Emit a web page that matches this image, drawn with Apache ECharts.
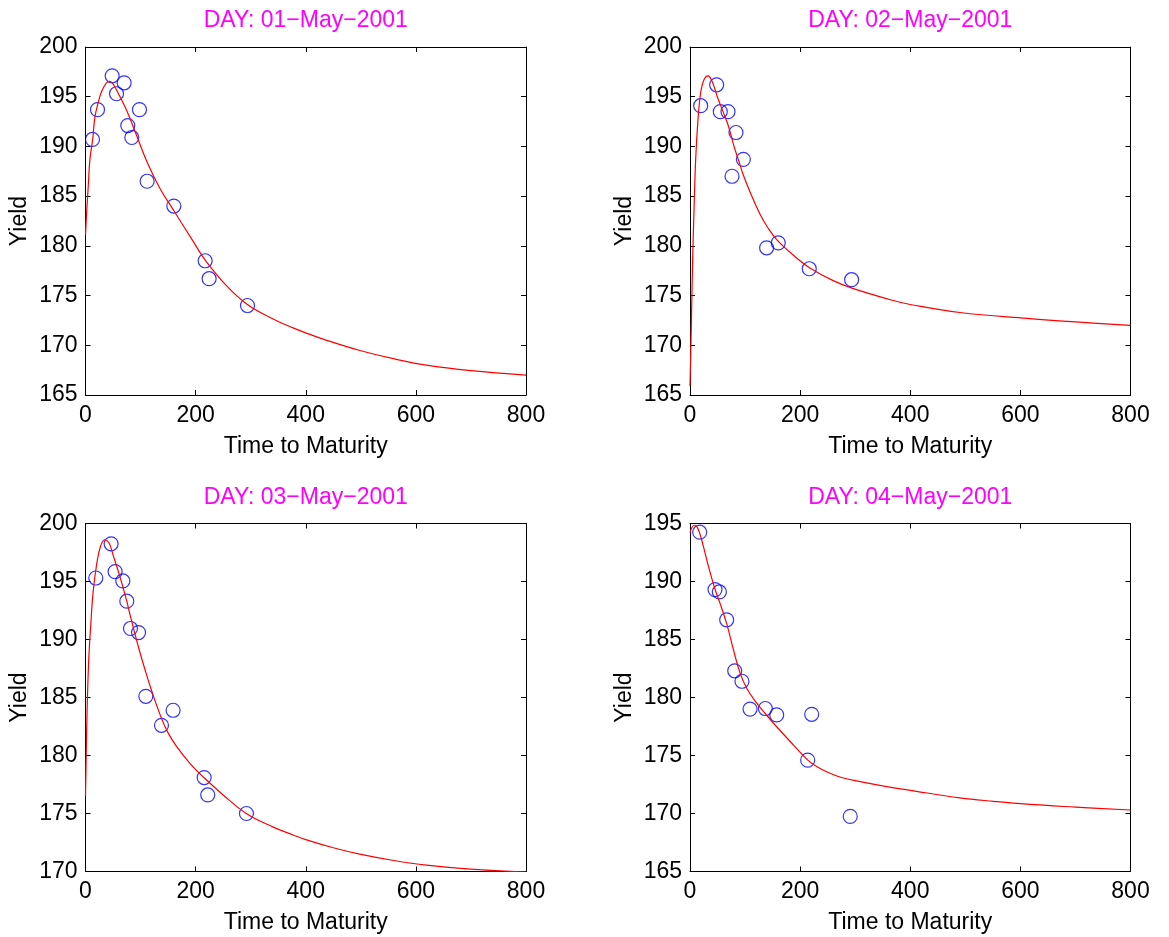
<!DOCTYPE html>
<html>
<head>
<meta charset="utf-8">
<script src="https://cdn.jsdelivr.net/npm/echarts@6/dist/echarts.min.js"></script>
<style>html,body{margin:0;padding:0;background:#fff;}#c{width:1169px;height:937px;}</style>
</head>
<body>
<div id="c"></div>
<script>
// ---- Data ----
const titles = ['DAY: 01\u2212May\u22122001', 'DAY: 02\u2212May\u22122001', 'DAY: 03\u2212May\u22122001', 'DAY: 04\u2212May\u22122001'];
const xTicks = [0, 200, 400, 600, 800];
const yRanges = [[165, 200], [165, 200], [170, 200], [165, 195]];

// Observed yields (circles)
const d1MatX = [12.7, 21.8, 48.4, 56.3, 70.2, 76.8, 84.1, 98.0, 111.9, 160.4, 217.3, 224.5, 294.2];
const d1YldY = [190.7, 193.7, 197.1, 195.3, 196.4, 192.1, 190.9, 193.7, 186.5, 184.0, 178.5, 176.7, 174.0];
const d2MatX = [19.4, 48.4, 55.0, 69.0, 83.5, 96.9, 76.3, 139.1, 160.3, 216.6, 293.5];
const d2YldY = [194.1, 196.2, 193.5, 193.5, 191.4, 188.7, 187.0, 179.8, 180.3, 177.7, 176.6];
const d3MatX = [18.7, 46.5, 53.8, 67.8, 75.0, 81.7, 96.3, 109.5, 138.0, 159.1, 215.5, 222.0, 292.3];
const d3YldY = [195.3, 198.25, 195.85, 195.05, 193.3, 190.95, 190.6, 185.1, 182.6, 183.9, 178.1, 176.6, 175.0];
const d4MatX = [17.6, 45.4, 53.3, 66.6, 81.2, 94.4, 109.0, 136.8, 157.4, 221.0, 213.7, 291.0];
const d4YldY = [194.25, 189.3, 189.1, 186.7, 182.3, 181.4, 179.0, 179.05, 178.5, 178.55, 174.6, 169.75];

// Fitted curves (red)
const c1X = [0, 2, 5, 8, 13, 17, 23, 29, 38, 44, 50, 59, 75, 90, 112, 135, 162, 195, 217, 256, 294, 337, 377, 400, 438, 500, 559, 619, 700, 800];
const c1Y = [181.1, 183.3, 186.0, 188.7, 190.7, 192.9, 194.4, 195.5, 196.4, 196.55, 196.3, 195.4, 193.6, 191.5, 188.4, 185.8, 183.4, 180.5, 178.6, 176.0, 174.1, 172.75, 171.75, 171.25, 170.5, 169.45, 168.65, 168.0, 167.45, 167.0];
const c2X = [0, 2.4, 4.8, 7.3, 10.3, 14.5, 19.4, 25.4, 32.7, 40.5, 49.6, 62, 70, 80, 90, 97, 110, 127, 140, 157, 190, 217, 260, 294, 369, 400, 490, 612, 700, 800];
const c2Y = [165.9, 171.9, 178.6, 183.6, 188.7, 192.7, 195.4, 196.7, 197.1, 196.5, 195.0, 193.2, 192.0, 190.0, 188.3, 187.1, 185.3, 183.2, 181.95, 180.65, 178.95, 177.8, 176.5, 175.75, 174.5, 174.1, 173.3, 172.7, 172.35, 172.0];
const c3X = [0, 1.2, 3, 6, 9.6, 13.8, 20, 27, 35, 43, 50, 62, 75, 80, 97, 110, 120, 138, 150, 165, 190, 215, 250, 292, 340, 377, 400, 450, 498, 560, 619, 700, 800];
const c3Y = [176.5, 179.8, 184.1, 188.4, 191.3, 194.1, 196.4, 198.0, 198.6, 198.3, 197.3, 195.5, 193.3, 192.3, 189.2, 187.1, 185.6, 183.2, 181.95, 180.8, 179.3, 178.1, 176.6, 175.0, 173.85, 173.15, 172.75, 172.05, 171.5, 170.95, 170.55, 170.2, 169.95];
const c4X = [0, 4, 9, 14, 18, 24, 33, 45, 54, 67, 79, 91, 103, 119, 137, 157, 188, 214, 230, 250, 275, 309, 360, 400, 490, 551, 612, 700, 800];
const c4Y = [194.2, 194.7, 194.85, 194.6, 194.1, 193.1, 191.4, 189.4, 188.2, 186.3, 184.1, 182.1, 180.8, 179.65, 178.6, 177.5, 175.9, 174.6, 174.05, 173.55, 173.1, 172.75, 172.3, 172.0, 171.35, 171.05, 170.8, 170.55, 170.3];

// ---- Layout ----
const FONT = 'Liberation Sans';
const FS = 23;
const grids = [
  {left: 85.5, top: 47, width: 440.5, height: 348},
  {left: 690, top: 47, width: 440.5, height: 348},
  {left: 85.5, top: 523.5, width: 440.5, height: 348},
  {left: 690, top: 523.5, width: 440.5, height: 348}
];
const pts = [[d1MatX, d1YldY], [d2MatX, d2YldY], [d3MatX, d3YldY], [d4MatX, d4YldY]];
const curves = [[c1X, c1Y], [c2X, c2Y], [c3X, c3Y], [c4X, c4Y]];
const zip = (a, b) => a.map((v, i) => [v, b[i]]);

const xAxis = [], yAxis = [], series = [], graphic = [];
grids.forEach((g, i) => {
  const common = {
    gridIndex: i, type: 'value',
    axisLine: {show: true, onZero: false, lineStyle: {color: '#000', width: 1}},
    axisTick: {show: true, inside: true, length: 5, lineStyle: {color: '#000', width: 1}},
    splitLine: {show: false}
  };
  xAxis.push(Object.assign({}, common, {
    position: 'bottom', min: xTicks[0], max: xTicks[xTicks.length - 1], interval: xTicks[1] - xTicks[0],
    axisLabel: {color: '#000', fontSize: FS, fontFamily: FONT, margin: 9, showMinLabel: true, showMaxLabel: true},
    name: 'Time to Maturity', nameLocation: 'middle', nameGap: 40,
    nameTextStyle: {color: '#000', fontSize: FS, fontFamily: FONT}
  }));
  xAxis.push(Object.assign({}, common, {
    position: 'top', min: xTicks[0], max: xTicks[xTicks.length - 1], interval: xTicks[1] - xTicks[0],
    axisLabel: {show: false}
  }));
  yAxis.push(Object.assign({}, common, {
    position: 'left', min: yRanges[i][0], max: yRanges[i][1], interval: 5,
    axisLabel: {color: '#000', fontSize: FS, fontFamily: FONT, margin: 8, showMinLabel: true, showMaxLabel: true},
    name: 'Yield', nameLocation: 'middle', nameGap: 54,
    nameTextStyle: {color: '#000', fontSize: FS, fontFamily: FONT}
  }));
  yAxis.push(Object.assign({}, common, {
    position: 'right', min: yRanges[i][0], max: yRanges[i][1], interval: 5,
    axisLabel: {show: false}
  }));
  series.push({
    type: 'scatter', xAxisIndex: 2 * i, yAxisIndex: 2 * i,
    data: zip(pts[i][0], pts[i][1]),
    symbol: 'circle', symbolSize: 14,
    itemStyle: {color: 'rgba(0,0,0,0)', borderColor: '#0000FF', borderWidth: 1.2},
    silent: true, z: 2
  });
  series.push({
    type: 'line', xAxisIndex: 2 * i, yAxisIndex: 2 * i,
    data: zip(curves[i][0], curves[i][1]),
    showSymbol: false, smooth: 0.4,
    lineStyle: {color: '#FF0000', width: 1.2},
    silent: true, z: 3
  });
  graphic.push({
    type: 'text', x: g.left + g.width / 2, y: g.top - 26,
    style: {text: titles[i], fill: '#FF00FF', font: FS + 'px "' + FONT + '"', align: 'center', verticalAlign: 'middle'}
  });
});

const chart = echarts.init(document.getElementById('c'), null, {renderer: 'canvas'});
chart.setOption({
  backgroundColor: '#fff',
  animation: false,
  grid: grids.map(g => Object.assign({containLabel: false}, g)),
  xAxis, yAxis, series, graphic
});
</script>
</body>
</html>
